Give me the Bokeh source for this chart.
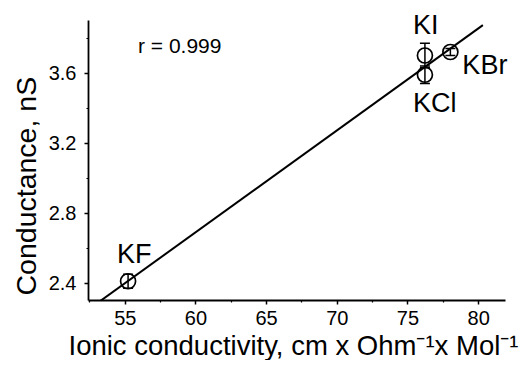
import numpy as np
from bokeh.plotting import figure
from bokeh.models import (ColumnDataSource, FixedTicker, Whisker, TeeHead, Range1d,
                          Label, Title)
from bokeh.embed import file_html
from bokeh.resources import INLINE

# ---- data ----
salts = ["KF", "KCl", "KI", "KBr"]
ionic_conductivity = [55.2, 76.2, 76.2, 78.0]
conductance = [2.41, 3.59, 3.70, 3.72]
conductance_err = [0.04, 0.05, 0.07, 0.02]
fit_x_span = [52.9, 80.3]
r_text = "r = 0.999"
x_title = "Ionic conductivity, cm x Ohm\u207b\u00b9x Mol\u207b\u00b9"
y_title = "Conductance, nS"
x_major = [55, 60, 65, 70, 75, 80]
x_minor = [52.5, 57.5, 62.5, 67.5, 72.5, 77.5]
y_major = [2.4, 2.8, 3.2, 3.6]
y_minor = [2.6, 3.0, 3.4, 3.8]

FONT = "Liberation Sans"
# axis extents (drawn) and plotting area extents (a bit larger, so labels are not clipped)
AX_X = (52.4, 81.9)
AX_Y = (2.3, 3.9)
FRAME_W, FRAME_H = 435, 292
x_scale = 417 / (AX_X[1] - AX_X[0])
y_scale = 280 / (AX_Y[1] - AX_Y[0])

src = ColumnDataSource(dict(
    x=ionic_conductivity,
    y=conductance,
    upper=[c + e for c, e in zip(conductance, conductance_err)],
    lower=[c - e for c, e in zip(conductance, conductance_err)],
))

p = figure(frame_width=FRAME_W, frame_height=FRAME_H, output_backend="svg", toolbar_location=None,
           x_range=Range1d(AX_X[0], AX_X[0] + FRAME_W / x_scale),
           y_range=Range1d(AX_Y[0], AX_Y[0] + FRAME_H / y_scale),
           min_border_left=88, min_border_right=0, min_border_top=8, min_border_bottom=58)
p.outline_line_color = None
p.xgrid.visible = False
p.ygrid.visible = False
p.background_fill_color = "white"
p.border_fill_color = "white"

# linear fit computed from the data
slope, intercept = np.polyfit(ionic_conductivity, conductance, 1)
fx = np.array(fit_x_span)
p.line(fx, slope * fx + intercept, line_color="black", line_width=2)

w = Whisker(base="x", upper="upper", lower="lower", source=src, dimension="height",
            line_color="black", line_width=1.5,
            upper_head=TeeHead(size=10, line_color="black", line_width=1.5),
            lower_head=TeeHead(size=10, line_color="black", line_width=1.5))
p.add_layout(w)

p.scatter("x", "y", source=src, marker="circle", size=15, fill_color=None,
          line_color="black", line_width=1.7)

# point labels (screen offsets, right/down)
offsets = {"KF": (-11, -27), "KCl": (-12, 28), "KI": (-12, -31), "KBr": (12, 13)}
for s, xv, yv in zip(salts, ionic_conductivity, conductance):
    dx, dy = offsets[s]
    p.add_layout(Label(x=xv, y=yv, text=s, x_offset=dx, y_offset=-dy,
                       text_font=FONT, text_font_size="27px", text_color="black",
                       text_align="left", text_baseline="alphabetic"))

p.add_layout(Label(x=55.9, y=3.76, text=r_text, text_font=FONT, text_font_size="21px",
                   text_color="black", text_align="left", text_baseline="alphabetic"))

for ax in (p.xaxis[0], p.yaxis[0]):
    ax.axis_line_color = "black"
    ax.axis_line_width = 1.8
    ax.major_tick_line_color = "black"
    ax.major_tick_line_width = 1.5
    ax.minor_tick_line_color = "black"
    ax.minor_tick_line_width = 1.2
    ax.major_tick_in = 0
    ax.major_tick_out = 4
    ax.minor_tick_in = 0
    ax.minor_tick_out = 2
    ax.major_label_text_font = FONT
    ax.major_label_text_font_size = "20px"
    ax.major_label_text_color = "black"

p.xaxis[0].bounds = AX_X
p.yaxis[0].bounds = AX_Y
p.xaxis[0].ticker = FixedTicker(ticks=x_major, minor_ticks=x_minor)
p.yaxis[0].ticker = FixedTicker(ticks=y_major, minor_ticks=y_minor)
p.xaxis[0].major_label_standoff = 6
p.yaxis[0].major_label_standoff = 8

# axis titles as side titles (positioned relative to the drawn axes)
p.add_layout(Title(text=x_title, align="left", offset=-20, standoff=0,
                   text_font=FONT, text_font_size="27.5px", text_font_style="normal",
                   text_color="black"), "below")
p.add_layout(Title(text=y_title, align="left", offset=5, standoff=8,
                   text_font=FONT, text_font_size="28.5px", text_font_style="normal",
                   text_color="black"), "left")

open("out.html", "w").write(file_html(p, INLINE))
